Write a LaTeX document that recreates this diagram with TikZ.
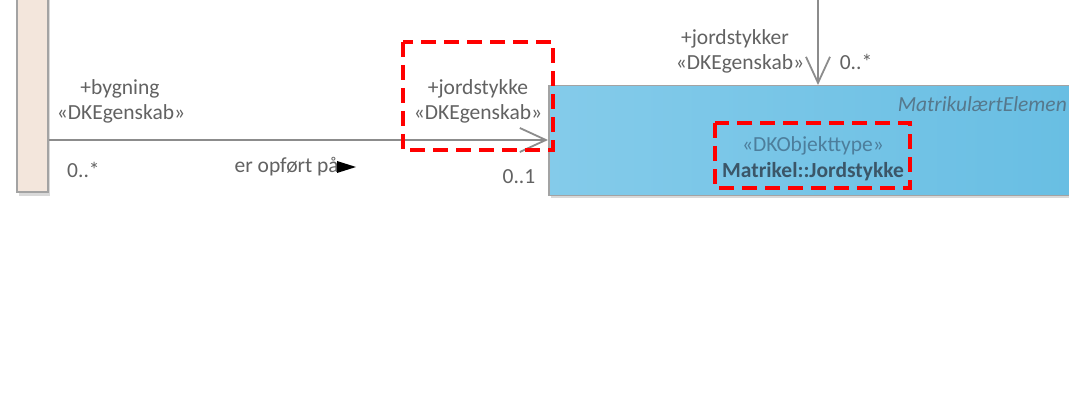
\documentclass[tikz,border=0pt]{standalone}
\usepackage{fontspec}
\setmainfont{Carlito}
\usetikzlibrary{arrows.meta,calc}
\definecolor{lbl}{HTML}{626262}
\definecolor{conn}{HTML}{8C8C8C}
\definecolor{beige}{HTML}{F3E6DC}
\definecolor{boxedge}{HTML}{A3A3A3}
\definecolor{blueL}{HTML}{84CBEA}
\definecolor{blueR}{HTML}{68BEE3}
\definecolor{stereo}{HTML}{4D7E9C}
\definecolor{cname}{HTML}{3B5668}
\definecolor{ital}{HTML}{56788C}
\begin{document}
\begin{tikzpicture}[x=1pt,y=-1pt,
  every node/.style={font=\fontsize{21.5}{25}\selectfont, text=lbl, inner sep=0pt},
  assoc/.style={draw=conn, line width=1.8pt, -{Straight Barb[length=26pt,width=24pt,line width=1.8pt]}},
  hilite/.style={draw=red, line width=4pt, dash pattern=on 15pt off 8pt},
  shadowbox/.style={fill=black!15, draw=none}]
\clip (0,0) rectangle (1069,395);
\fill[white] (0,0) rectangle (1069,395);
% left class (beige)
\fill[shadowbox] (19,-5) rectangle (50,196);
\node[draw=boxedge, line width=1.5pt, fill=beige, minimum width=31pt, minimum height=200pt, anchor=south west] (leftbox) at (16,193) {};
% blue class
\fill[shadowbox] (551,88) rectangle (1080,198);
\node[draw=boxedge, line width=1.5pt, left color=blueL, right color=blueR, minimum width=530pt, minimum height=110pt, anchor=north west] (bluebox) at (548,85) {};
% connectors
\coordinate (hy) at (0,140);
\coordinate (vtop) at (818,-5);
\draw[assoc] (leftbox.east |- hy) -- (bluebox.west |- hy);
\draw[assoc] (vtop) -- (bluebox.north -| vtop);
% labels
\node (bygn) at (120,89) {+bygning};
\node (bygnst) at (121,114) {«DKEgenskab»};
\node[anchor=west] (m1) at (67,170) {0..*};
\node[anchor=east] (opf) at (339,167) {er opført på};
\fill[black] ([xshift=-2pt,yshift=6pt]opf.east) -- ++(19,6) -- ++(-19,6) -- cycle;
\node (jord) at (478,89) {+jordstykke};
\node (jordst) at (478,114) {«DKEgenskab»};
\node (m2) at (519,177) {0..1};
\node (jords) at (735,39) {+jordstykker};
\node (jordsst) at (740,64) {«DKEgenskab»};
\node (m3) at (856,62) {0..*};
\node[anchor=east, text=ital, font=\fontsize{21.5}{25}\selectfont\itshape] (abs) at (1067,104) {MatrikulærtElemen};
\node[text=stereo] (stt) at (813,146) {«DKObjekttype»};
\node[text=cname, font=\fontsize{21.5}{25}\selectfont\bfseries] (cls) at (813,172) {Matrikel::Jordstykke};
% red highlight rectangles
\draw[hilite] (403,42) rectangle (553,150);
\draw[hilite] (715,123) rectangle (910,188);
\end{tikzpicture}
\end{document}
